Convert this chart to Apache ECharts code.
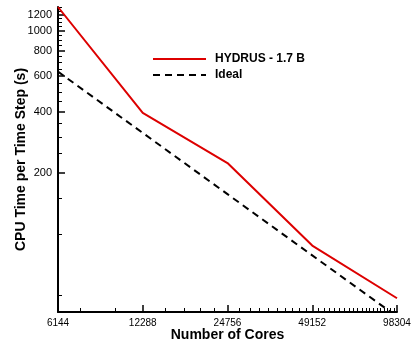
<!DOCTYPE html>
<html>
<head>
<meta charset="utf-8">
<script src="https://cdn.jsdelivr.net/npm/echarts@6/dist/echarts.min.js"></script>
<style>
  html, body { margin: 0; padding: 0; background: #fff; }
  #chart { width: 416px; height: 343px; }
</style>
</head>
<body>
<div id="chart"></div>
<script>
/* data */
const CORES       = [6144, 12288, 24576, 49152, 98304]
const CORE_LABELS = ['6144', '12288', '24756', '49152', '98304']
const HYDRUS      = [1310, 395, 224, 88, 48.5]
const IDEAL       = [630, 315, 157.5, 78.75, 39.4]

/* axis ticks */
const Y_MAJOR = [200, 400, 600, 800, 1000, 1200]
const Y_MINOR = [50, 100, 150, 250, 300, 350, 450, 500, 550, 650, 700, 750,
                 850, 900, 950, 1050, 1100, 1150, 1250, 1300]
const X_MINOR = [7373, 9830,
                 14746, 17203, 19661, 22118,
                 27034, 29491, 31949, 34406, 36864, 39322, 41779, 44237, 46694,
                 51610, 54067, 56525, 58982, 61440, 63898, 66355, 68813, 71270,
                 73728, 76186, 78643, 81101, 83558, 86016, 88474, 90931, 93389, 95846]

const FONT = 'Liberation Sans, Arial, Helvetica, sans-serif'
const X_RANGE = [6144, 98304]
const Y_RANGE = [41.5, 1310]

function coreLabel(v) {
  let best = 0
  CORES.forEach((c, i) => { if (Math.abs(c - v) < Math.abs(CORES[best] - v)) best = i })
  return CORE_LABELS[best]
}

const chart = echarts.init(document.getElementById('chart'), null, { renderer: 'canvas' })

chart.setOption({
  animation: false,
  backgroundColor: '#fff',
  textStyle: { fontFamily: FONT },
  grid: { left: 58, right: 19, top: 7, bottom: 31, containLabel: false, outerBoundsMode: 'none' },
  legend: {
    orient: 'vertical',
    left: 147, top: 48,
    itemWidth: 53, itemHeight: 12, itemGap: 4,
    itemStyle: { opacity: 0 },
    lineStyle: { opacity: 1 },
    textStyle: { fontFamily: FONT, fontSize: 12, fontWeight: 'bold', color: '#000', padding: [0, 0, 0, 4] },
    data: ['HYDRUS - 1.7 B', 'Ideal'],
  },
  xAxis: [
    {
      type: 'log', logBase: 2, min: X_RANGE[0], max: X_RANGE[1], position: 'bottom',
      axisLine: { lineStyle: { color: '#000', width: 2 } },
      axisTick: { inside: true, length: 7, lineStyle: { color: '#000', width: 1.5 }, customValues: CORES },
      axisLabel: { customValues: CORES, formatter: coreLabel, fontSize: 10, color: '#000', margin: 6 },
      splitLine: { show: false }, minorTick: { show: false },
      name: 'Number of Cores', nameLocation: 'middle', nameGap: 16, nameMoveOverlap: false,
      nameTextStyle: { fontFamily: FONT, fontSize: 14, fontWeight: 'bold', color: '#000' },
    },
    {
      type: 'log', logBase: 2, min: X_RANGE[0], max: X_RANGE[1], position: 'bottom',
      axisLine: { show: false },
      axisTick: { inside: true, length: 4, lineStyle: { color: '#000', width: 1 }, customValues: X_MINOR },
      axisLabel: { show: false }, splitLine: { show: false },
    },
  ],
  yAxis: [
    {
      type: 'log', logBase: 10, min: Y_RANGE[0], max: Y_RANGE[1], position: 'left',
      axisLine: { show: true, lineStyle: { color: '#000', width: 2 } },
      axisTick: { show: true, inside: true, length: 7, lineStyle: { color: '#000', width: 1.5 }, customValues: Y_MAJOR },
      axisLabel: { customValues: Y_MAJOR, formatter: v => String(Math.round(v)), fontSize: 11, color: '#000', margin: 6 },
      splitLine: { show: false },
      name: 'CPU Time per Time Step (s)', nameLocation: 'middle', nameGap: 30, nameMoveOverlap: false,
      nameTextStyle: { fontFamily: FONT, fontSize: 14, fontWeight: 'bold', color: '#000' },
    },
    {
      type: 'log', logBase: 10, min: Y_RANGE[0], max: Y_RANGE[1], position: 'left', offset: 0,
      axisLine: { show: false },
      axisTick: { show: true, inside: true, length: 4, lineStyle: { color: '#000', width: 1 }, customValues: Y_MINOR },
      axisLabel: { show: false }, splitLine: { show: false },
    },
  ],
  series: [
    {
      name: 'HYDRUS - 1.7 B', type: 'line', symbol: 'none',
      data: CORES.map((c, i) => [c, HYDRUS[i]]),
      lineStyle: { color: '#dd0000', width: 2 },
      itemStyle: { color: '#dd0000' },
      z: 3,
    },
    {
      name: 'Ideal', type: 'line', symbol: 'none',
      data: CORES.map((c, i) => [c, IDEAL[i]]),
      lineStyle: { color: '#000', width: 2, type: [7, 5] },
      itemStyle: { color: '#000' },
      z: 2,
    },
  ],
})
</script>
</body>
</html>
